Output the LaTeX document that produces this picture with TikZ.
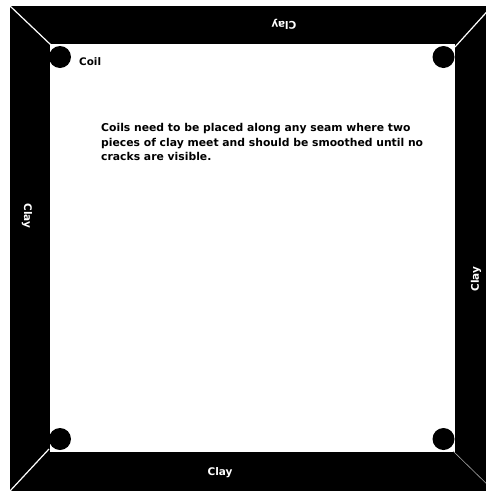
\documentclass[tikz,border=0pt]{standalone}
\usepackage{fontspec}
\setmainfont{DejaVu Sans}
\begin{document}
\begin{tikzpicture}[x=1pt,y=-1pt,
  claytext/.style={text=white,font=\bfseries\fontsize{10.5}{12}\selectfont,inner sep=0pt},
  coil/.style={circle,fill=black,minimum size=22pt,inner sep=0pt},
  seam/.style={white,line width=1.2pt}]
\useasboundingbox (0,0) rectangle (486,491);
\clip (0,0) rectangle (486,491);
% frame
\fill[black] (10,6) -- (493,6) -- (493,492) -- (10,492) -- cycle;
\fill[white] (50,44) rectangle (455,452);
% seams
\coordinate (otl) at (10,6);
\coordinate (itl) at (51,45);
\coordinate (otr) at (493,5);
\coordinate (itr) at (455,47);
\coordinate (obl) at (10,491);
\coordinate (ibl) at (49,449);
\coordinate (obr) at (494,491);
\coordinate (ibr) at (453,451);
\draw[seam] (otl) -- (itl);
\draw[seam] (otr) -- (itr);
\draw[seam] (obl) -- (ibl);
\draw[seam,line width=0.6pt,gray!70] (obr) -- (ibr);
% coils
\node[coil] (c1) at (60,57) {};
\node[coil] (c2) at (443.5,57) {};
\node[coil] (c3) at (60,439) {};
\node[coil] (c4) at (443.5,439) {};
\node[anchor=west,inner sep=0pt,font=\bfseries\fontsize{10.4}{12}\selectfont] (coillbl) at (79,61.5) {Coil};
% clay labels
\node[claytext,rotate=180] (ctop) at (284,24) {Clay};
\node[claytext] (cbot) at (220,473) {Clay};
\node[claytext,rotate=-90] (cleft) at (27,216) {Clay};
\node[claytext,rotate=90] (cright) at (476,279) {Clay};
% note
\node[anchor=north west,inner sep=0pt,align=left,font=\bfseries\fontsize{10.8}{14.5}\selectfont] (note) at (101,123.5) {Coils need to be placed along any seam where two\\pieces of clay meet and should be smoothed until no\\cracks are visible.};
\end{tikzpicture}
\end{document}
